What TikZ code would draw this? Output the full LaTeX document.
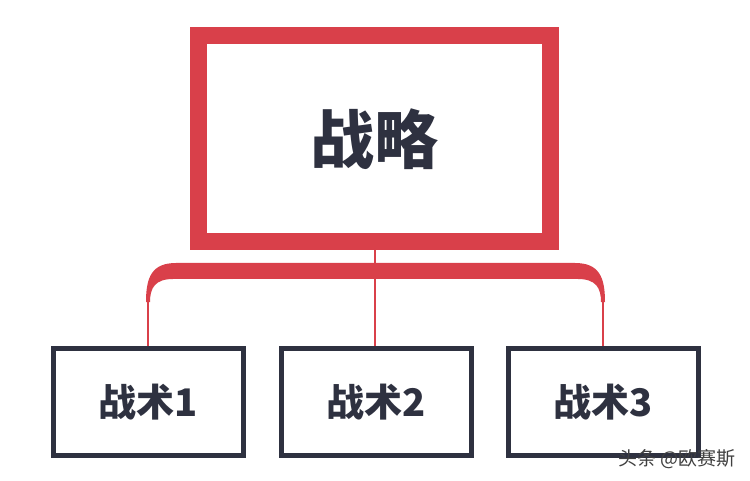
\documentclass[tikz,border=0pt]{standalone}
\usepackage{fontspec}
\newfontfamily\cjk{Noto Sans CJK SC}
\usetikzlibrary{calc}
\definecolor{zlred}{HTML}{D9404A}
\definecolor{zlnavy}{HTML}{2E3140}
\newcommand{\BraceBand}[2]{%
($(#1)+(-2,0)$) %
  .. controls ($(#1)+(-2,-25)$) and ($(#1)+(4,-39)$) .. %
($(#1)+(28,-39)$) -- ($(#2)+(-28,-39)$) %
  .. controls ($(#2)+(-4,-39)$) and ($(#2)+(2,-25)$) .. %
($(#2)+(2,0)$) -- ($(#2)+(-2,0)$) %
  .. controls ($(#2)+(-2,-14)$) and ($(#2)+(-7,-23)$) .. %
($(#2)+(-25,-23)$) -- ($(#1)+(25,-23)$) %
  .. controls ($(#1)+(7,-23)$) and ($(#1)+(2,-14)$) .. %
($(#1)+(2,0)$) -- %
cycle %
}
\tikzset{
  stratbox/.style={draw=zlred, line width=17pt, minimum width=352pt,
    minimum height=206.5pt, inner sep=0pt, text=zlnavy,
    font=\cjk\bfseries\fontsize{64}{70}\selectfont},
  tacbox/.style={draw=zlnavy, line width=5pt, minimum width=190pt,
    minimum height=107pt, inner sep=0pt, text=zlnavy,
    font=\cjk\bfseries\fontsize{38}{42}\selectfont},
  tline/.style={draw=zlred, line width=2pt},
  wmtext/.style={text=black!75, inner sep=0pt,
    font=\cjk\fontsize{19}{21}\selectfont}
}
\begin{document}
\begin{tikzpicture}[x=1pt, y=-1pt]
    \fill[white] (0,0) rectangle (750,481);
    \useasboundingbox (0,0) rectangle (750,481);
    \node[stratbox] (strat) at (374.5,138.75) {战略};
    \node[tacbox] (tac1) at (148.5,402) {战术1};
    \node[tacbox] (tac2) at (376,402) {战术2};
    \node[tacbox] (tac3) at (603.5,402) {战术3};
    \coordinate (armL) at (148,302);
    \coordinate (armR) at (603,302);
    \draw[tline] (strat.south) -- (strat.south |- tac2.north);
    \draw[tline] (tac1.north -| armL) -- (armL);
    \draw[tline] (tac3.north -| armR) -- (armR);
    \fill[zlred] \BraceBand{armL}{armR};
    \node[wmtext] (wm) at (677,459) {头条 @欧赛斯};
  \end{tikzpicture}
\end{document}
